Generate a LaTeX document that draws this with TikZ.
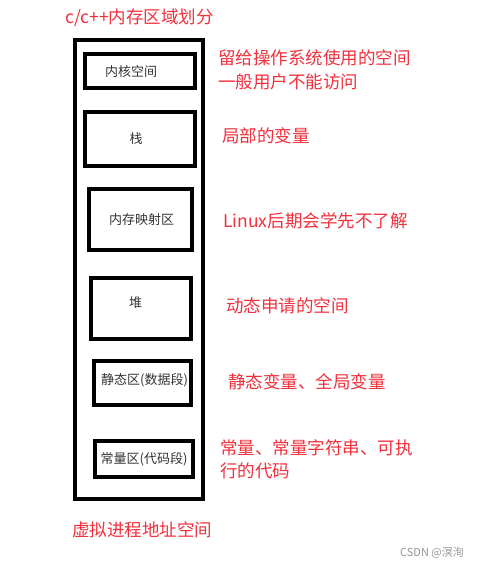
\documentclass[tikz,border=0pt]{standalone}
\usepackage{fontspec}
\setmainfont{Noto Sans CJK SC}
\definecolor{redtxt}{RGB}{242,48,60}
\definecolor{wmgray}{RGB}{150,150,150}
\tikzset{
  frame/.style={draw=black, line width=3.8pt, minimum width=#1, inner sep=0pt, outer sep=0pt},
  boxlabel/.style={font=\fontsize{13}{15}\selectfont, text=black!80, inner sep=0pt, anchor=center},
  note/.style={font=\fontsize{17.5}{21}\selectfont, text=redtxt, inner sep=0pt, anchor=west},
}
\begin{document}
\begin{tikzpicture}[x=1pt,y=-1pt]
\useasboundingbox (0,0) rectangle (484,568);
\fill[white] (0,0) rectangle (484,568);
% title
\node[note] (title) at (65,18) {c/c++内存区域划分};
% outer frame
\node[frame=128pt, minimum height=459pt] (outer) at (139,269.5) {};
% inner boxes
\node[frame=110pt, minimum height=34pt] (b1) at (140,71) {};
\node[frame=110pt, minimum height=54pt] (b2) at (140,139) {};
\node[frame=103pt, minimum height=61pt] (b3) at (140.5,219.5) {};
\node[frame=100pt, minimum height=61pt] (b4) at (141,308.5) {};
\node[frame=97pt, minimum height=44pt] (b5) at (142.5,383) {};
\node[frame=98pt, minimum height=36pt] (b6) at (144,459) {};
% box labels
\node[boxlabel] (l1) at (131,72) {内核空间};
\node[boxlabel] (l2) at (136,139) {栈};
\node[boxlabel] (l3) at (141.5,220) {内存映射区};
\node[boxlabel] (l4) at (135.5,303) {堆};
\node[boxlabel] (l5) at (144.5,380) {静态区(数据段)};
\node[boxlabel] (l6) at (144,459) {常量区(代码段)};
% notes
\node[note] (n1a) at (218,58) {留给操作系统使用的空间};
\node[note] (n1b) at (218,82) {一般用户不能访问};
\node[note] (n2) at (222,136) {局部的变量};
\node[note] (n3) at (223,221) {Linux后期会学先不了解};
\node[note] (n4) at (226,306) {动态申请的空间};
\node[note] (n5) at (228,382) {静态变量、全局变量};
\node[note] (n6a) at (220,448) {常量、常量字符串、可执};
\node[note] (n6b) at (220,471) {行的代码};
\node[note] (foot) at (72,530) {虚拟进程地址空间};
\node[font=\fontsize{11}{13}\selectfont, text=wmgray, inner sep=0pt, anchor=west] (wm) at (400,553) {CSDN @溟洵};
\end{tikzpicture}
\end{document}
